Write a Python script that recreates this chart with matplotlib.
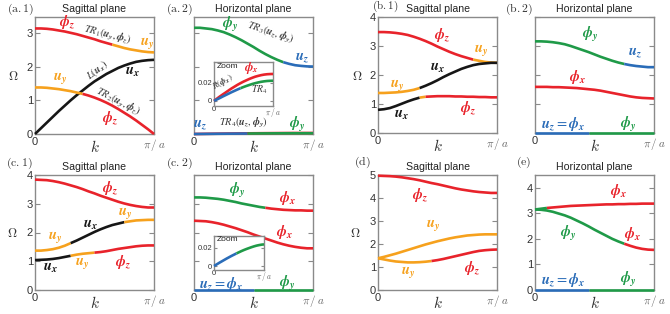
import numpy as np
import matplotlib
matplotlib.use('Agg')
import matplotlib.pyplot as plt

plt.rcParams['font.family'] = ['Liberation Sans', 'DejaVu Sans']
plt.rcParams['mathtext.fontset'] = 'cm'

# ---------------- data (k in units of pi/a) ----------------
K = np.linspace(0, 1, 21)

# (a.1) sagittal
a1_tr1 = [3.13, 3.13, 3.12, 3.10, 3.07, 3.04, 3.00, 2.96, 2.91, 2.86, 2.81,
          2.75, 2.70, 2.65, 2.60, 2.55, 2.51, 2.48, 2.45, 2.43, 2.42]
a1_L = [0.00, 0.17, 0.34, 0.51, 0.68, 0.84, 1.00, 1.15, 1.29, 1.43, 1.56,
        1.67, 1.78, 1.87, 1.96, 2.03, 2.09, 2.14, 2.17, 2.19, 2.20]
a1_tr2 = [1.38, 1.38, 1.37, 1.35, 1.33, 1.30, 1.27, 1.23, 1.19, 1.14, 1.08,
          1.01, 0.93, 0.84, 0.74, 0.63, 0.52, 0.40, 0.27, 0.14, 0.00]
# (a.2) horizontal
a2_tr3 = [3.15, 3.15, 3.13, 3.11, 3.07, 3.02, 2.95, 2.87, 2.78, 2.68, 2.58,
          2.47, 2.37, 2.28, 2.20, 2.13, 2.08, 2.04, 2.02, 2.005, 2.00]
a2_R = [0.0, 0.0026, 0.0050, 0.0073, 0.0095, 0.0118, 0.0140, 0.0160, 0.0180,
        0.0198, 0.0215, 0.0230, 0.0245, 0.0258, 0.0270, 0.0279, 0.0287,
        0.0293, 0.0297, 0.0299, 0.0300]
a2_tr4 = [0.0, 0.0017, 0.0033, 0.0050, 0.0066, 0.0082, 0.0098, 0.0113, 0.0128,
          0.0142, 0.0155, 0.0167, 0.0178, 0.0189, 0.0198, 0.0206, 0.0213,
          0.0218, 0.0222, 0.0224, 0.0225]
# (b.1)
b1_top = [3.48, 3.48, 3.47, 3.45, 3.42, 3.38, 3.32, 3.25, 3.17, 3.08, 2.98,
          2.89, 2.80, 2.72, 2.65, 2.59, 2.53, 2.49, 2.45, 2.43, 2.42]
b1_mid = [1.38, 1.38, 1.39, 1.40, 1.42, 1.45, 1.49, 1.55, 1.63, 1.72, 1.82,
          1.93, 2.03, 2.12, 2.21, 2.28, 2.34, 2.38, 2.40, 2.42, 2.42]
b1_low = [0.80, 0.82, 0.86, 0.93, 1.01, 1.09, 1.16, 1.22, 1.25, 1.26, 1.27,
          1.27, 1.27, 1.26, 1.26, 1.25, 1.25, 1.24, 1.24, 1.23, 1.23]
# (b.2)
b2_top = [3.16, 3.16, 3.15, 3.13, 3.10, 3.06, 3.00, 2.93, 2.86, 2.79, 2.71,
          2.63, 2.56, 2.49, 2.43, 2.38, 2.34, 2.31, 2.29, 2.27, 2.27]
b2_mid = [1.59, 1.59, 1.59, 1.58, 1.58, 1.57, 1.56, 1.55, 1.53, 1.51, 1.49,
          1.46, 1.42, 1.38, 1.34, 1.30, 1.26, 1.23, 1.21, 1.20, 1.19]
b2_low = [0.0] * 21
# (c.1)
c1_top = [3.84, 3.83, 3.82, 3.79, 3.75, 3.70, 3.64, 3.58, 3.51, 3.43, 3.36,
          3.28, 3.21, 3.14, 3.07, 3.01, 2.96, 2.92, 2.89, 2.87, 2.87]
c1_mid = [1.37, 1.37, 1.39, 1.42, 1.47, 1.54, 1.63, 1.72, 1.82, 1.92, 2.02,
          2.11, 2.19, 2.26, 2.31, 2.36, 2.39, 2.42, 2.43, 2.44, 2.44]
c1_low = [1.04, 1.05, 1.06, 1.08, 1.11, 1.15, 1.19, 1.23, 1.26, 1.28, 1.30,
          1.32, 1.35, 1.39, 1.43, 1.46, 1.49, 1.52, 1.54, 1.55, 1.55]
# (c.2)
c2_top = [3.22, 3.22, 3.21, 3.19, 3.17, 3.14, 3.10, 3.06, 3.01, 2.97, 2.93,
          2.89, 2.86, 2.83, 2.81, 2.79, 2.78, 2.77, 2.77, 2.76, 2.76]
c2_mid = [2.41, 2.40, 2.39, 2.36, 2.32, 2.27, 2.21, 2.15, 2.08, 2.01, 1.93,
          1.86, 1.79, 1.72, 1.65, 1.59, 1.54, 1.50, 1.47, 1.45, 1.45]
c2_low = [0.0] * 21
c2_zoom = [0.0, 0.0017, 0.0034, 0.0050, 0.0066, 0.0082, 0.0097, 0.0112,
           0.0126, 0.0140, 0.0153, 0.0166, 0.0178, 0.0189, 0.0199, 0.0209,
           0.0218, 0.0226, 0.0232, 0.0237, 0.0240]
# (d)
d_top = [4.97, 4.96, 4.95, 4.93, 4.90, 4.86, 4.82, 4.77, 4.71, 4.65, 4.60,
         4.54, 4.48, 4.42, 4.37, 4.33, 4.29, 4.26, 4.24, 4.22, 4.22]
d_mid = [1.38, 1.44, 1.51, 1.58, 1.66, 1.74, 1.82, 1.90, 1.98, 2.05, 2.12,
         2.18, 2.24, 2.29, 2.33, 2.37, 2.39, 2.41, 2.42, 2.42, 2.42]
d_low = [1.38, 1.33, 1.28, 1.24, 1.22, 1.20, 1.20, 1.21, 1.23, 1.26, 1.30,
         1.35, 1.41, 1.47, 1.53, 1.59, 1.65, 1.70, 1.73, 1.75, 1.76]
# (e)
e_top = [3.15, 3.18, 3.21, 3.23, 3.25, 3.27, 3.29, 3.30, 3.31, 3.32, 3.33,
         3.34, 3.35, 3.35, 3.36, 3.36, 3.37, 3.37, 3.38, 3.38, 3.38]
e_mid = [3.15, 3.14, 3.11, 3.06, 2.99, 2.92, 2.83, 2.72, 2.61, 2.49, 2.36,
         2.24, 2.12, 2.00, 1.90, 1.81, 1.73, 1.66, 1.61, 1.58, 1.57]
e_low = [0.0] * 21

xtick_labels = ['0', r'$\pi\,/\,a$']

# ---------------- styling ----------------
RED = '#e8232b'
ORA = '#f6a11d'
BLK = '#161616'
GRN = '#1f9a48'
BLU = '#2a6cb8'
FRAME = '#8a8a8a'
TXT = '#333333'
LW = 1.9

W, H = 670, 314
fig = plt.figure(figsize=(W / 100, H / 100), dpi=100)


def axpx(l, t, w, h):
    return fig.add_axes([l / W, 1 - (t + h) / H, w / W, h / H])


def style(ax, ylim, yticks, ylabels=True, omega=None, title=None, small=False):
    ax.set_xlim(0, 1)
    ax.set_ylim(*ylim)
    for s in ax.spines.values():
        s.set_color(FRAME)
        s.set_linewidth(1.0)
    ax.set_yticks(yticks)
    fs = 5.5 if small else 8
    ax.tick_params(axis='y', direction='in', left=True, right=True,
                   length=2.5 if small else 3.5, width=0.8, color=FRAME,
                   labelsize=fs, labelcolor=TXT, pad=1.5, labelleft=ylabels)
    ax.set_xticks([0, 1])
    ax.set_xticklabels(xtick_labels)
    ax.tick_params(axis='x', length=0, labelsize=fs, labelcolor=TXT,
                   pad=0.2 if small else 2.5)
    ax.get_xticklabels()[1].set_color('#666666')
    if small:
        return
    ax.text(0.5, -0.115, r'$k$', transform=ax.transAxes, ha='center',
            va='center', fontsize=11, color=TXT)
    if omega is not None:
        ax.text(omega, 0.49, r'$\Omega$', transform=ax.transAxes,
                ha='center', va='center', fontsize=9, color=TXT)
    if title:
        ax.text(0.5, 1.025, title, transform=ax.transAxes, ha='center',
                va='bottom', fontsize=7.6, color='#222222')


def draw(ax, y, segs, lw=LW):
    y = np.asarray(y)
    for a, b, c in segs:
        ax.plot(K[a:b + 1], y[a:b + 1], color=c, lw=lw,
                solid_capstyle='butt', clip_on=False, zorder=3)


def bf(sym, sub):
    return r'$\mathbfit{%s}_{\mathbfit{%s}}$' % (sym, sub)


def lab(ax, k, w, s, c, size=10.5, rot=0):
    ax.text(k, w, s, color=c, fontsize=size, rotation=rot, ha='center',
            va='center', math_fontfamily='stix', zorder=5)


def tr(ax, k, w, s, rot=0, size=7.5):
    ax.text(k, w, s, color='#3a3a3a', fontsize=size, rotation=rot,
            ha='center', va='center', math_fontfamily='stix', zorder=5,
            rotation_mode='anchor')


def panel(px, py, s, size=8.5):
    fig.text(px / W, 1 - py / H, r'$\mathrm{%s}$' % s, ha='right',
             va='center', fontsize=size, color=TXT)


PHI = r'\phi'
phz, phx, phy = bf(PHI, 'z'), bf(PHI, 'x'), bf(PHI, 'y')
uy, ux, uz = bf('u', 'y'), bf('u', 'x'), bf('u', 'z')
uzphx = r'$\mathbfit{u}_{\mathbfit{z}} = \mathbfit{\phi}_{\mathbfit{x}}$'

# ---------------- (a.1) ----------------
ax = axpx(35, 17, 119, 117)
style(ax, (0, 3.47), [0, 1, 2, 3], omega=-0.185, title='Sagittal plane')
draw(ax, a1_tr1, [(0, 13, RED), (13, 20, ORA)])
draw(ax, a1_L, [(0, 20, BLK)])
draw(ax, a1_tr2, [(0, 8, ORA), (8, 20, RED)])
lab(ax, 0.27, 3.30, phz, RED)
lab(ax, 0.94, 2.69, uy, ORA)
lab(ax, 0.21, 1.66, uy, ORA)
lab(ax, 0.82, 1.83, ux, BLK)
lab(ax, 0.63, 0.47, phz, RED)
tr(ax, 0.61, 2.93, r'$TR_1(\mathbfit{u_y},\mathbfit{\phi_z})$', rot=-14)
tr(ax, 0.70, 0.95, r'$TR_2(\mathbfit{u_y},\mathbfit{\phi_z})$', rot=-27)
tr(ax, 0.52, 1.90, r'$L(\mathbfit{u_x})$', rot=38)
panel(34, 9, '(a.1)')

# ---------------- (a.2) ----------------
ax = axpx(194, 17, 119, 117)
style(ax, (0, 3.47), [0, 1, 2, 3], ylabels=False, title='Horizontal plane')
draw(ax, a2_tr3, [(0, 15, GRN), (15, 20, BLU)])
draw(ax, a2_R, [(0, 20, RED)])
draw(ax, a2_tr4, [(0, 9, BLU), (9, 20, GRN)])
lab(ax, 0.30, 3.24, phy, GRN)
lab(ax, 0.91, 2.25, uz, BLU)
lab(ax, 0.05, 0.26, uz, BLU)
lab(ax, 0.87, 0.28, phy, GRN)
tr(ax, 0.64, 2.99, r'$TR_3(\mathbfit{u_z},\mathbfit{\phi_y})$', rot=-18)
tr(ax, 0.42, 0.33, r'$TR_4(\mathbfit{u_z},\mathbfit{\phi_y})$')
panel(193, 9, '(a.2)')

axi = axpx(214, 62, 59, 44)
style(axi, (-0.0056, 0.0433), [0, 0.02], small=True)
axi.set_yticklabels(['0', '0.02'])
draw(axi, a2_R, [(0, 20, RED)])
draw(axi, a2_tr4, [(0, 9, BLU), (9, 20, GRN)])
axi.text(0.05, 0.97, 'Zoom', transform=axi.transAxes, ha='left', va='top',
         fontsize=6, color='#222222')
lab(axi, 0.64, 0.037, phx, RED, size=9)
tr(axi, 0.15, 0.021, r'$R(\mathbfit{\phi_x})$', rot=30, size=6.5)
tr(axi, 0.76, 0.012, r'$TR_4$', size=7)

# ---------------- (b.1) ----------------
ax = axpx(378, 17, 119, 116)
style(ax, (0, 4.0), [0, 1, 2, 3, 4], omega=-0.176, title='Sagittal plane')
draw(ax, b1_top, [(0, 16, RED), (16, 20, ORA)])
draw(ax, b1_mid, [(0, 7, ORA), (7, 20, BLK)])
draw(ax, b1_low, [(0, 7, BLK), (7, 8, ORA), (8, 20, RED)])
lab(ax, 0.54, 3.38, phz, RED)
lab(ax, 0.87, 2.86, uy, ORA)
lab(ax, 0.50, 2.24, ux, BLK)
lab(ax, 0.16, 1.66, uy, ORA)
lab(ax, 0.20, 0.62, ux, BLK)
lab(ax, 0.76, 0.86, phz, RED)
panel(398, 6.5, '(b.1)', size=8)

# ---------------- (b.2) ----------------
ax = axpx(535, 17, 119, 116)
style(ax, (0, 4.0), [0, 1, 2, 3, 4], ylabels=False, title='Horizontal plane')
draw(ax, b2_top, [(0, 15, GRN), (15, 20, BLU)])
draw(ax, b2_mid, [(0, 20, RED)])
draw(ax, b2_low, [(0, 9, BLU), (9, 20, GRN)])
lab(ax, 0.46, 3.38, phy, GRN)
lab(ax, 0.84, 2.76, uz, BLU)
lab(ax, 0.36, 1.93, phx, RED)
lab(ax, 0.24, 0.30, uzphx, BLU)
lab(ax, 0.78, 0.30, phy, GRN)
panel(533, 9, '(b.2)')

# ---------------- (c.1) ----------------
ax = axpx(35, 175, 119, 115)
style(ax, (0, 4.0), [0, 1, 2, 3, 4], omega=-0.19, title='Sagittal plane')
draw(ax, c1_top, [(0, 20, RED)])
draw(ax, c1_mid, [(0, 6, ORA), (6, 15, BLK), (15, 20, ORA)])
draw(ax, c1_low, [(0, 6, BLK), (6, 10, ORA), (10, 20, RED)])
lab(ax, 0.63, 3.54, phz, RED)
lab(ax, 0.76, 2.67, uy, ORA)
lab(ax, 0.47, 2.26, ux, BLK)
lab(ax, 0.17, 1.84, uy, ORA)
lab(ax, 0.40, 0.94, uy, ORA)
lab(ax, 0.74, 0.97, phz, RED)
lab(ax, 0.13, 0.76, ux, BLK)
panel(33, 163, '(c.1)')

# ---------------- (c.2) ----------------
ax = axpx(194, 175, 119, 115)
style(ax, (0, 4.0), [0, 1, 2, 3, 4], ylabels=False, title='Horizontal plane')
draw(ax, c2_top, [(0, 12, GRN), (12, 20, RED)])
draw(ax, c2_mid, [(0, 20, RED)])
draw(ax, c2_low, [(0, 10, BLU), (10, 20, GRN)])
lab(ax, 0.36, 3.47, phy, GRN)
lab(ax, 0.79, 3.19, phx, RED)
lab(ax, 0.76, 2.01, phx, RED)
lab(ax, 0.23, 0.19, uzphx, BLU)
lab(ax, 0.78, 0.24, phy, GRN)
panel(193, 163, '(c.2)')

axi = axpx(214, 236, 50, 34)
style(axi, (-0.0044, 0.0333), [0, 0.02], small=True)
axi.set_yticklabels(['0', '0.02'])
draw(axi, c2_zoom, [(0, 9, BLU), (9, 20, GRN)])
axi.text(0.05, 0.99, 'Zoom', transform=axi.transAxes, ha='left', va='top',
         fontsize=6, color='#222222')

# ---------------- (d) ----------------
ax = axpx(378, 175, 119, 115)
style(ax, (0, 5.0), [0, 1, 2, 3, 4, 5], omega=-0.19, title='Sagittal plane')
draw(ax, d_top, [(0, 20, RED)])
draw(ax, d_mid, [(0, 20, ORA)])
draw(ax, d_low, [(0, 9, ORA), (9, 20, RED)])
lab(ax, 0.35, 4.11, phz, RED)
lab(ax, 0.46, 2.81, uy, ORA)
lab(ax, 0.25, 0.78, uy, ORA)
lab(ax, 0.79, 0.95, phz, RED)
panel(371, 162, '(d)')

# ---------------- (e) ----------------
ax = axpx(535, 175, 119, 115)
style(ax, (0, 4.5), [0, 1, 2, 3, 4], title='Horizontal plane')
draw(ax, e_top, [(0, 2, GRN), (2, 20, RED)])
draw(ax, e_mid, [(0, 15, GRN), (15, 20, RED)])
draw(ax, e_low, [(0, 9, BLU), (9, 20, GRN)])
lab(ax, 0.70, 3.88, phx, RED)
lab(ax, 0.28, 2.21, phy, GRN)
lab(ax, 0.82, 2.21, phx, RED)
lab(ax, 0.24, 0.40, uzphx, BLU)
lab(ax, 0.78, 0.40, phy, GRN)
panel(531, 162, '(e)')

fig.savefig('out.png', dpi=100)
